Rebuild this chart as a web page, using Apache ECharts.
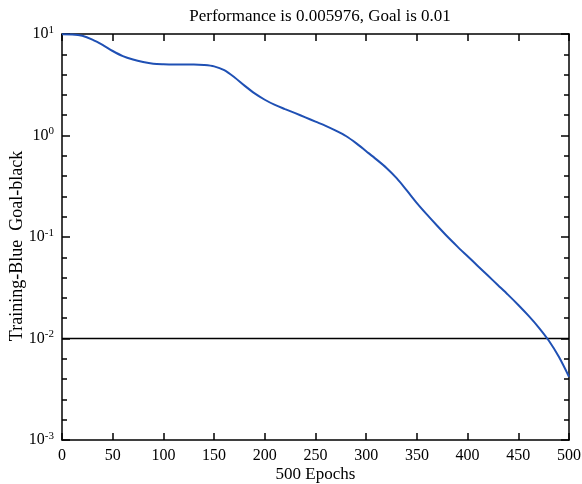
<!DOCTYPE html>
<html>
<head>
<meta charset="utf-8">
<script src="https://cdn.jsdelivr.net/npm/echarts@6/dist/echarts.min.js"></script>
<style>
  html, body { margin: 0; padding: 0; background: #fff; }
  #main { width: 582px; height: 484px; }
</style>
</head>
<body>
<div id="main"></div>
<script>
// data
var epochs = [0, 10, 20, 30, 40, 50, 60, 70, 80, 90, 100, 110, 120, 130, 140, 150, 160, 170, 180, 190,
  200, 210, 220, 230, 240, 250, 260, 270, 280, 290, 300, 310, 320, 330, 340, 350, 360, 370, 380, 390,
  400, 410, 420, 430, 440, 450, 460, 470, 480, 490, 500];
var perf = [9.95, 9.9, 9.6, 8.8, 7.8, 6.8, 6.05, 5.6, 5.3, 5.1, 5.03, 5.0, 5.0, 5.0, 4.95, 4.8, 4.4, 3.75, 3.1, 2.6,
  2.25, 2.0, 1.82, 1.66, 1.51, 1.37, 1.245, 1.117, 0.989, 0.841, 0.70, 0.582, 0.479, 0.380, 0.288, 0.216, 0.166, 0.129, 0.101, 0.0804,
  0.0646, 0.0519, 0.0417, 0.0335, 0.0269, 0.0214, 0.0168, 0.0129, 0.00955, 0.0066, 0.0042];
var goal = 0.01;
var goalX = [0, 500];
var titleText = 'Performance is 0.005976, Goal is 0.01';

var font = 'Liberation Serif';
var trainData = epochs.map(function (e, i) { return [e, perf[i]]; });
var goalData = goalX.map(function (e) { return [e, goal]; });

var myChart = echarts.init(document.getElementById('main'));

var boxLine = { onZero: false, lineStyle: { color: '#000', width: 1.5 } };
var option = {
    animation: false,
    title: {
        text: titleText,
        left: 315, top: 3,
        textAlign: 'center',
        textStyle: { fontFamily: font, fontSize: 17, fontWeight: 'normal', color: '#000' }
    },
    grid: { left: 62, right: 13, top: 34, bottom: 44, outerBoundsMode: 'none', containLabel: false },
    xAxis: [{
        type: 'value', min: 0, max: 500, interval: 50,
        name: '500 Epochs', nameLocation: 'middle', nameGap: 26, nameMoveOverlap: false,
        nameTextStyle: { fontFamily: font, fontSize: 17, color: '#000' },
        axisLine: boxLine,
        axisTick: { inside: true, length: 7, lineStyle: { color: '#000', width: 1.5 } },
        axisLabel: { fontFamily: font, fontSize: 16, color: '#000', margin: 8 },
        splitLine: { show: false }
    }, {
        type: 'value', min: 0, max: 500, interval: 50, position: 'top',
        axisLine: boxLine,
        axisTick: { inside: true, length: 7, lineStyle: { color: '#000', width: 1.5 } },
        axisLabel: { show: false },
        splitLine: { show: false }
    }],
    yAxis: [{
        type: 'log', min: 0.001, max: 10, logBase: 10,
        name: 'Training-Blue  Goal-black', nameLocation: 'middle', nameGap: 36, nameMoveOverlap: false,
        nameTextStyle: { fontFamily: font, fontSize: 18, color: '#000', padding: [0, 18, 0, 0] },
        axisLine: boxLine,
        axisTick: { inside: true, length: 8, lineStyle: { color: '#000', width: 1.5 } },
        axisLabel: {
            margin: 8,
            formatter: function (v) {
                var p = Math.round(Math.log10(v));
                return '{b|10}{s|' + p + '}';
            },
            rich: {
                b: { fontFamily: font, fontSize: 16, color: '#000' },
                s: { fontFamily: font, fontSize: 11, color: '#000', padding: [0, 0, 8, 0] }
            }
        },
        splitLine: { show: false }
    }, {
        type: 'log', min: 0.001, max: 10, logBase: 10, position: 'right',
        axisLine: boxLine,
        axisTick: { inside: true, length: 8, lineStyle: { color: '#000', width: 1.5 } },
        axisLabel: { show: false },
        splitLine: { show: false }
    }, {
        // minor ticks, left side (log10 space)
        type: 'value', min: -3, max: 1, interval: 0.2, position: 'left',
        axisLine: { show: false, onZero: false },
        axisTick: { inside: true, length: 5, lineStyle: { color: '#000', width: 1.5 } },
        axisLabel: { show: false },
        splitLine: { show: false }
    }, {
        type: 'value', min: -3, max: 1, interval: 0.2, position: 'right',
        axisLine: { show: false, onZero: false },
        axisTick: { inside: true, length: 5, lineStyle: { color: '#000', width: 1.5 } },
        axisLabel: { show: false },
        splitLine: { show: false }
    }],
    series: [{
        name: 'Goal',
        type: 'line',
        data: goalData,
        symbol: 'none',
        lineStyle: { color: '#000', width: 1.5 }
    }, {
        name: 'Training',
        type: 'line',
        data: trainData,
        symbol: 'none',
        smooth: 0.3,
        lineStyle: { color: '#1f50b4', width: 2 }
    }]
};
myChart.setOption(option);
</script>
</body>
</html>
